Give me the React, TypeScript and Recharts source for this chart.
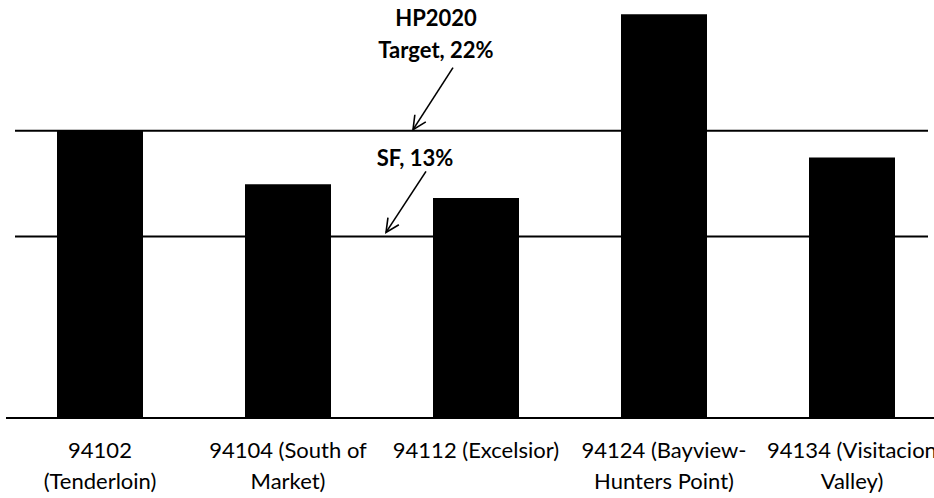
import React from "react";
import { BarChart, Bar, XAxis, YAxis, ReferenceLine, Label } from "recharts";

const categories = [
  "94102 (Tenderloin)",
  "94104 (South of Market)",
  "94112 (Excelsior)",
  "94124 (Bayview-Hunters Point)",
  "94134 (Visitacion Valley)",
];
const tickLines: string[][] = [
  ["94102", "(Tenderloin)"],
  ["94104 (South of", "Market)"],
  ["94112 (Excelsior)"],
  ["94124 (Bayview-", "Hunters Point)"],
  ["94134 (Visitacion", "Valley)"],
];
const values = [22.0, 17.9, 16.85, 30.9, 19.95];
const hpTarget = 22;
const sfLevel = 13.9;
const hpLabel = ["HP2020", "Target, 22%"];
const sfLabel = ["SF, 13%"];

const data = categories.map((c, i) => ({ name: c, value: values[i] }));

const FONT = "Lato, 'Open Sans', sans-serif";

const Tick = (props: any) => {
  const { x, y, index } = props;
  const lines = tickLines[index] || [];
  return (
    <g>
      {lines.map((t, i) => (
        <text
          key={i}
          x={x}
          y={y + 40 + i * 31}
          textAnchor="middle"
          fontFamily={FONT}
          fontSize={22}
          fill="#000"
        >
          {t}
        </text>
      ))}
    </g>
  );
};

const Arrow = ({ x1, y1, x2, y2 }: any) => {
  const ang = Math.atan2(y2 - y1, x2 - x1);
  const len = 15;
  const spread = 0.45;
  const a1 = ang + Math.PI - spread;
  const a2 = ang + Math.PI + spread;
  return (
    <g stroke="#000" strokeWidth={1.6} fill="none">
      <line x1={x1} y1={y1} x2={x2} y2={y2} />
      <polyline
        points={`${x2 + len * Math.cos(a1)},${y2 + len * Math.sin(a1)} ${x2},${y2} ${x2 + len * Math.cos(a2)},${y2 + len * Math.sin(a2)}`}
      />
    </g>
  );
};

const makeAnnot = (lines: string[], textX: number, firstDy: number, arrowX1: number, arrowDy1: number, arrowX2: number, arrowDy2: number) => (props: any) => {
  const vb = props.viewBox || {};
  const y = vb.y;
  return (
    <g>
      {lines.map((t, i) => (
        <text
          key={i}
          x={textX}
          y={y + firstDy + i * 32}
          textAnchor="middle"
          fontFamily={FONT}
          fontWeight="bold"
          fontSize={22}
          fill="#000"
        >
          {t}
        </text>
      ))}
      <Arrow x1={arrowX1} y1={y + arrowDy1} x2={arrowX2} y2={y + arrowDy2} />
    </g>
  );
};

const hpAnnot = makeAnnot(hpLabel, 436, -105, 453, -63, 413, -1);
const sfAnnot = makeAnnot(sfLabel, 415, -70, 426, -65, 386, -4);

const lineShape = (props: any) => {
  const { x1, y1, x2, y2 } = props;
  return <line x1={x1 + 9} y1={y1} x2={x2 - 18} y2={y2} stroke="#000" strokeWidth={2} />;
};

export default function App() {
  return (
    <div
      style={{
        position: "absolute",
        left: 0,
        top: 0,
        width: 934,
        height: 498,
        overflow: "hidden",
        background: "#fff",
      }}
    >
      <BarChart
        width={950}
        height={498}
        data={data}
        margin={{ top: 0, right: 4, bottom: 0, left: 6 }}
      >
        <YAxis hide domain={[0, 32]} type="number" allowDataOverflow />
        <XAxis
          dataKey="name"
          height={80}
          tickLine={false}
          tickSize={0}
          tickMargin={0}
          axisLine={{ stroke: "#000", strokeWidth: 2 }}
          tick={<Tick />}
          interval={0}
        />
        <Bar dataKey="value" fill="#000" barSize={86} isAnimationActive={false} />
        <ReferenceLine y={hpTarget} stroke="#000" strokeWidth={2} shape={lineShape}>
          <Label content={hpAnnot} />
        </ReferenceLine>
        <ReferenceLine y={sfLevel} stroke="#000" strokeWidth={2} shape={lineShape}>
          <Label content={sfAnnot} />
        </ReferenceLine>
      </BarChart>
    </div>
  );
}
